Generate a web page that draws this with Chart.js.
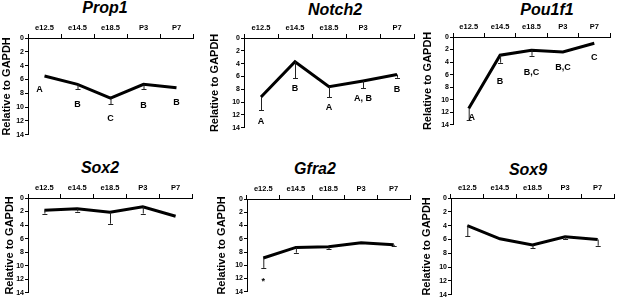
<!DOCTYPE html>
<html lang="en">
<head>
    <meta charset="UTF-8">
    <title>Relative expression</title>
    <script src="https://cdn.jsdelivr.net/npm/chart.js"></script>
    <style>
        body { margin: 0; background: #fff; }
        #wrap { position: relative; width: 617px; height: 298px; overflow: hidden; }
        #wrap canvas { position: absolute; }
        .gene {
            position: absolute;
            font: italic bold 16px "Liberation Sans", Arial, sans-serif;
            transform: translate(-50%, -50%);
            white-space: nowrap;
            color: #000;
        }
    </style>
</head>
<body>
<div id="wrap"></div>

<script>
    // ---- data ----
    const stages = ['e12.5', 'e14.5', 'e18.5', 'P3', 'P7'];
    const genes = ['Prop1', 'Notch2', 'Pou1f1', 'Sox2', 'Gfra2', 'Sox9'];

    const prop1Mean = [5.5, 6.7, 8.7, 6.7, 7.2];
    const prop1Err = [0, 0.7, 0.9, 0.7, 0];
    const prop1Letters = ['A', 'B', 'C', 'B', 'B'];
    const prop1LetterAt = [7.5, 9.6, 11.7, 9.7, 9.3];

    const notch2Mean = [9.2, 3.7, 7.6, 6.7, 5.7];
    const notch2Err = [2.1, 2.6, 1.6, 1.1, 0.5];
    const notch2Letters = ['A', 'B', 'A', 'A, B', 'B'];
    const notch2LetterAt = [13.0, 7.9, 10.9, 9.5, 8.0];

    const pou1f1Mean = [11.4, 2.9, 2.1, 2.4, 1.0];
    const pou1f1Err = [1.8, 1.2, 0.9, 0, 0];
    const pou1f1Letters = ['A', 'B', 'B,C', 'B,C', 'C'];
    const pou1f1LetterAt = [12.8, 7.1, 5.7, 4.8, 3.2];

    const sox2Mean = [1.8, 1.6, 2.1, 1.3, 2.7];
    const sox2Err = [0.5, 0.4, 1.7, 1.0, 0];

    const gfra2Mean = [8.9, 7.3, 7.2, 6.6, 6.9];
    const gfra2Err = [1.5, 0.8, 0.4, 0, 0.2];
    const gfra2Letters = ['*', '', '', '', ''];
    const gfra2LetterAt = [12.4, null, null, null, null];

    const sox9Mean = [4.0, 5.9, 6.8, 5.6, 6.0];
    const sox9Err = [1.5, 0, 0.5, 0.3, 0.9];

    const yTicksMax = 14;
    const yStep = 2;

    const series = [
        { mean: prop1Mean, err: prop1Err, letters: prop1Letters, letterAt: prop1LetterAt, letterShift: [-0.15, 0, 0, 0, 0] },
        { mean: notch2Mean, err: notch2Err, letters: notch2Letters, letterAt: notch2LetterAt, letterShift: [0, 0, 0, 0, 0] },
        { mean: pou1f1Mean, err: pou1f1Err, letters: pou1f1Letters, letterAt: pou1f1LetterAt, letterShift: [0.1, 0, 0, 0, 0] },
        { mean: sox2Mean, err: sox2Err, letters: [], letterAt: [], letterShift: [] },
        { mean: gfra2Mean, err: gfra2Err, letters: gfra2Letters, letterAt: gfra2LetterAt, letterShift: [0, 0, 0, 0, 0] },
        { mean: sox9Mean, err: sox9Err, letters: [], letterAt: [], letterShift: [] }
    ];

    // ---- layout of each panel (plot area in page pixels) ----
    const panels = [
        { left: 28,  right: 193, top: 38,  bottom: 135, titleX: 105, titleY: 8,   yTitleX: 7 },
        { left: 244, right: 414, top: 38,  bottom: 128, titleX: 335, titleY: 10,  yTitleX: 215 },
        { left: 453, right: 610, top: 37,  bottom: 125, titleX: 547, titleY: 10,  yTitleX: 428 },
        { left: 28,  right: 192, top: 198, bottom: 293, titleX: 100, titleY: 168, yTitleX: 10 },
        { left: 247, right: 410, top: 199, bottom: 292, titleX: 315, titleY: 169, yTitleX: 222 },
        { left: 451, right: 614, top: 198, bottom: 295, titleX: 528, titleY: 170, yTitleX: 427 }
    ];

    const FONT = '"Liberation Sans", Arial, sans-serif';
    const X_AXIS_H = 20;
    const wrap = document.getElementById('wrap');

    // error bars + significance letters
    const extrasPlugin = {
        id: 'extras',
        afterDatasetsDraw(chart) {
            const s = chart.options.plugins.extras.series;
            const ctx = chart.ctx;
            const xs = chart.scales.x, ys = chart.scales.y;
            ctx.save();
            ctx.strokeStyle = '#222';
            ctx.lineWidth = 1;
            s.mean.forEach((v, i) => {
                if (!s.err[i]) return;
                const x = xs.getPixelForValue(i);
                const y0 = ys.getPixelForValue(v);
                const y1 = ys.getPixelForValue(v + s.err[i]);
                ctx.beginPath();
                ctx.moveTo(x + 0.5, y0);
                ctx.lineTo(x + 0.5, y1);
                ctx.moveTo(x - 2, Math.round(y1) + 0.5);
                ctx.lineTo(x + 3, Math.round(y1) + 0.5);
                ctx.stroke();
            });
            ctx.fillStyle = '#000';
            ctx.font = 'bold 9px ' + FONT;
            ctx.textAlign = 'center';
            ctx.textBaseline = 'middle';
            s.letters.forEach((t, i) => {
                if (!t || s.letterAt[i] == null) return;
                const x = xs.getPixelForValue(i + (s.letterShift[i] || 0));
                const y = ys.getPixelForValue(s.letterAt[i]);
                ctx.fillText(t, x, y);
            });
            ctx.restore();
        }
    };

    panels.forEach((p, k) => {
        const cLeft = p.yTitleX - 7;
        const cTop = p.top - X_AXIS_H;
        const w = p.right - cLeft + 2;
        const h = p.bottom - cTop + 5;
        const yAxisW = p.left - cLeft;

        const title = document.createElement('div');
        title.className = 'gene';
        title.style.left = p.titleX + 'px';
        title.style.top = p.titleY + 'px';
        title.textContent = genes[k];
        wrap.appendChild(title);

        const canvas = document.createElement('canvas');
        canvas.style.left = cLeft + 'px';
        canvas.style.top = cTop + 'px';
        canvas.style.width = w + 'px';
        canvas.style.height = h + 'px';
        canvas.width = w;
        canvas.height = h;
        wrap.appendChild(canvas);

        new Chart(canvas, {
            type: 'line',
            data: {
                labels: stages,
                datasets: [{
                    data: series[k].mean,
                    borderColor: '#000',
                    borderWidth: 3,
                    pointRadius: 0,
                    tension: 0,
                    fill: false
                }]
            },
            options: {
                responsive: false,
                animation: false,
                layout: { padding: { left: 0, right: 2, top: 0, bottom: 0 } },
                plugins: {
                    legend: { display: false },
                    tooltip: { enabled: false },
                    extras: { series: series[k] }
                },
                scales: {
                    x: {
                        position: 'top',
                        offset: true,
                        grid: {
                            drawOnChartArea: false,
                            tickLength: 4,
                            color: '#000',
                            offset: true
                        },
                        border: { color: '#000', width: 1 },
                        ticks: {
                            color: '#000',
                            padding: 2,
                            maxRotation: 0,
                            font: { family: FONT, size: 7.5, weight: 'bold' }
                        },
                        afterFit(scale) { scale.height = X_AXIS_H; }
                    },
                    y: {
                        reverse: true,
                        min: 0,
                        max: yTicksMax,
                        grid: {
                            drawOnChartArea: false,
                            tickLength: 3,
                            color: '#000'
                        },
                        border: { color: '#000', width: 1 },
                        ticks: {
                            stepSize: yStep,
                            color: '#000',
                            padding: 1,
                            font: { family: FONT, size: 7, weight: 'bold' }
                        },
                        title: {
                            display: true,
                            text: 'Relative to GAPDH',
                            color: '#000',
                            padding: { top: 0.5, bottom: 0 },
                            font: { family: FONT, size: 11, weight: 'bold' }
                        },
                        afterFit(scale) { scale.width = yAxisW; }
                    }
                }
            },
            plugins: [extrasPlugin]
        });
    });
</script>
</body>
</html>
